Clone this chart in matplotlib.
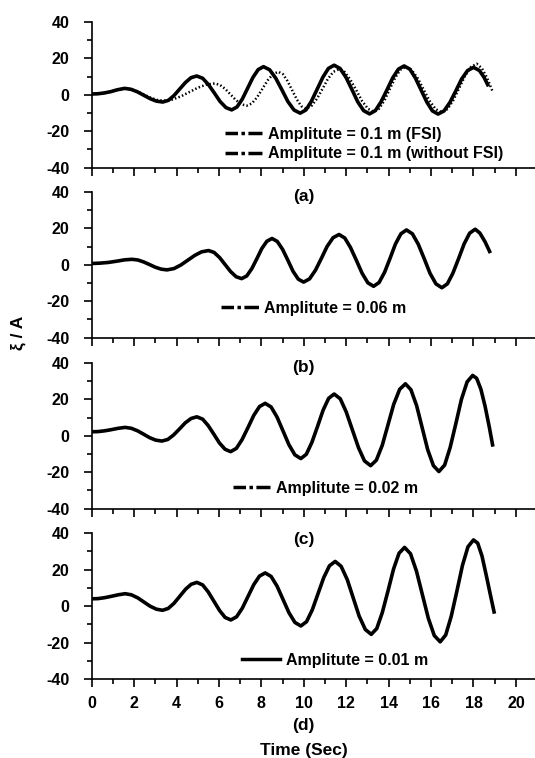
import matplotlib
matplotlib.use("Agg")
import matplotlib.pyplot as plt
from matplotlib.lines import Line2D
from matplotlib.ticker import MultipleLocator

plt.rcParams['font.family'] = ['Liberation Sans', 'DejaVu Sans']
plt.rcParams['font.weight'] = 'bold'
plt.rcParams['axes.unicode_minus'] = False

# (a) amplitude 0.1 m, FSI (solid) and without FSI (dotted)
t_a_fsi = [0, 0.3, 0.6, 0.9, 1.2, 1.55,
           1.85, 2.15, 2.45, 2.75, 3.05, 3.35,
           3.62, 3.88, 4.15, 4.42, 4.68, 4.95,
           5.23, 5.5, 5.78, 6.05, 6.33, 6.6,
           6.85, 7.1, 7.35, 7.6, 7.85, 8.1,
           8.39, 8.68, 8.97, 9.25, 9.54, 9.83,
           10.1, 10.36, 10.63, 10.9, 11.16, 11.43,
           11.71, 11.99, 12.27, 12.54, 12.82, 13.1,
           13.37, 13.64, 13.92, 14.19, 14.46, 14.73,
           15.0, 15.26, 15.53, 15.8, 16.06, 16.33,
           16.61, 16.89, 17.17, 17.44, 17.72, 18.0,
           18.28, 18.5, 18.67]
y_a_fsi = [0.4, 0.55, 1.0, 1.7, 2.7, 3.5,
           3.0, 1.63, -0.25, -2.13, -3.5, -4.0,
           -3.04, -0.43, 3.15, 6.73, 9.34, 10.3,
           9.05, 5.65, 1.0, -3.65, -7.05, -8.3,
           -6.71, -2.38, 3.55, 9.48, 13.81, 15.4,
           13.69, 9.03, 2.65, -3.73, -8.39, -10.1,
           -8.34, -3.53, 3.05, 9.63, 14.44, 16.2,
           14.41, 9.53, 2.85, -3.83, -8.71, -10.5,
           -8.74, -3.93, 2.65, 9.23, 14.04, 15.8,
           14.03, 9.2, 2.6, -4.0, -8.83, -10.6,
           -8.88, -4.2, 2.2, 8.6, 13.28, 15.0,
           13.3, 9.5, 5.5]

t_a_nofsi = [0, 0.3, 0.6, 0.9, 1.2, 1.55,
             1.86, 2.17, 2.48, 2.78, 3.09, 3.4,
             3.8, 4.2, 4.6, 5.0, 5.4, 5.8,
             6.05, 6.3, 6.55, 6.8, 7.05, 7.3,
             7.55, 7.8, 8.05, 8.3, 8.55, 8.8,
             9.02, 9.23, 9.45, 9.67, 9.88, 10.1,
             10.36, 10.62, 10.88, 11.13, 11.39, 11.65,
             11.93, 12.2, 12.48, 12.75, 13.03, 13.3,
             13.55, 13.8, 14.05, 14.3, 14.55, 14.8,
             15.08, 15.37, 15.65, 15.93, 16.22, 16.5,
             16.78, 17.05, 17.33, 17.6, 17.88, 18.15,
             18.4, 18.65, 18.9]
y_a_nofsi = [0.4, 0.55, 1.0, 1.7, 2.7, 3.4,
             2.95, 1.73, 0.05, -1.63, -2.85, -3.3,
             -2.66, -0.93, 1.45, 3.83, 5.56, 6.2,
             5.38, 3.15, 0.1, -2.95, -5.18, -6.0,
             -4.75, -1.35, 3.3, 7.95, 11.35, 12.6,
             11.25, 7.55, 2.5, -2.55, -6.25, -7.6,
             -6.15, -2.2, 3.2, 8.6, 12.55, 14.0,
             12.44, 8.18, 2.35, -3.48, -7.74, -9.3,
             -7.65, -3.15, 3.0, 9.15, 13.65, 15.3,
             13.63, 9.08, 2.85, -3.38, -7.93, -9.6,
             -7.82, -2.95, 3.7, 10.35, 15.22, 17.0,
             14.5, 9.0, 1.8]

# (b) amplitude 0.06 m
t_b = [0, 0.4, 0.8, 1.2, 1.55, 1.9,
       2.18, 2.45, 2.73, 3.0, 3.28, 3.55,
       3.88, 4.2, 4.53, 4.86, 5.18, 5.51,
       5.77, 6.03, 6.29, 6.55, 6.81, 7.07,
       7.31, 7.55, 7.79, 8.02, 8.26, 8.5,
       8.75, 9.0, 9.25, 9.49, 9.74, 9.99,
       10.27, 10.55, 10.83, 11.1, 11.38, 11.66,
       11.93, 12.2, 12.48, 12.75, 13.02, 13.29,
       13.55, 13.81, 14.07, 14.32, 14.58, 14.84,
       15.12, 15.4, 15.68, 15.95, 16.23, 16.51,
       16.77, 17.03, 17.3, 17.56, 17.82, 18.08,
       18.3, 18.55, 18.76]
y_b = [0.7, 0.9, 1.3, 2.0, 2.7, 3.0,
       2.61, 1.55, 0.1, -1.35, -2.41, -2.8,
       -2.09, -0.15, 2.5, 5.15, 7.09, 7.8,
       6.77, 3.95, 0.1, -3.75, -6.57, -7.6,
       -6.13, -2.1, 3.4, 8.9, 12.93, 14.4,
       12.8, 8.43, 2.45, -3.53, -7.9, -9.5,
       -7.75, -2.98, 3.55, 10.08, 14.85, 16.6,
       14.7, 9.5, 2.4, -4.7, -9.9, -11.8,
       -9.73, -4.08, 3.65, 11.38, 17.03, 19.1,
       16.98, 11.18, 3.25, -4.68, -10.48, -12.6,
       -10.45, -4.58, 3.45, 11.48, 17.35, 19.5,
       17.4, 12.5, 7.3]

# (c) amplitude 0.02 m
t_c = [0, 0.3, 0.6, 0.9, 1.25, 1.58,
       1.87, 2.16, 2.45, 2.73, 3.02, 3.31,
       3.59, 3.86, 4.14, 4.41, 4.69, 4.96,
       5.23, 5.49, 5.76, 6.02, 6.29, 6.55,
       6.82, 7.09, 7.37, 7.64, 7.91, 8.18,
       8.46, 8.74, 9.02, 9.3, 9.58, 9.86,
       10.12, 10.38, 10.65, 10.91, 11.17, 11.43,
       11.72, 12.0, 12.29, 12.58, 12.86, 13.15,
       13.42, 13.7, 13.97, 14.24, 14.52, 14.79,
       15.05, 15.32, 15.58, 15.84, 16.11, 16.37,
       16.64, 16.9, 17.17, 17.43, 17.7, 17.96,
       18.15, 18.35, 18.55, 18.75, 18.9]
y_c = [2.2, 2.3, 2.7, 3.3, 4.1, 4.6,
       4.1, 2.73, 0.85, -1.03, -2.4, -2.9,
       -2.01, 0.43, 3.75, 7.08, 9.51, 10.4,
       9.12, 5.63, 0.85, -3.93, -7.42, -8.7,
       -6.92, -2.08, 4.55, 11.18, 16.02, 17.8,
       15.77, 10.23, 2.65, -4.93, -10.47, -12.5,
       -10.13, -3.65, 5.2, 14.05, 20.53, 22.9,
       20.27, 13.08, 3.25, -6.58, -13.77, -16.4,
       -13.39, -5.18, 6.05, 17.28, 25.49, 28.5,
       25.28, 16.48, 4.45, -7.58, -16.38, -19.6,
       -16.07, -6.43, 6.75, 19.93, 29.57, 33.1,
       31.5, 25.5, 16.0, 4.5, -5.0]

# (d) amplitude 0.01 m
t_d = [0, 0.3, 0.6, 0.9, 1.25, 1.58,
       1.87, 2.17, 2.46, 2.75, 3.05, 3.34,
       3.61, 3.88, 4.15, 4.42, 4.69, 4.96,
       5.23, 5.49, 5.76, 6.03, 6.29, 6.56,
       6.83, 7.1, 7.37, 7.64, 7.91, 8.18,
       8.46, 8.74, 9.02, 9.3, 9.58, 9.86,
       10.13, 10.4, 10.67, 10.94, 11.21, 11.48,
       11.76, 12.05, 12.33, 12.61, 12.9, 13.18,
       13.44, 13.7, 13.97, 14.23, 14.49, 14.75,
       15.03, 15.31, 15.59, 15.87, 16.15, 16.43,
       16.69, 16.95, 17.22, 17.48, 17.74, 18.0,
       18.2, 18.4, 18.6, 18.8, 18.97]
y_d = [4.0, 4.1, 4.6, 5.3, 6.2, 6.8,
       6.19, 4.53, 2.25, -0.03, -1.69, -2.3,
       -1.27, 1.53, 5.35, 9.18, 11.97, 13.0,
       11.62, 7.85, 2.7, -2.45, -6.22, -7.6,
       -5.87, -1.15, 5.3, 11.75, 16.47, 18.2,
       16.25, 10.93, 3.65, -3.63, -8.95, -10.9,
       -8.53, -2.05, 6.8, 15.65, 22.13, 24.5,
       21.82, 14.5, 4.5, -5.5, -12.82, -15.5,
       -12.3, -3.58, 8.35, 20.28, 29.0, 32.2,
       28.73, 19.25, 6.3, -6.65, -16.13, -19.6,
       -15.85, -5.63, 8.35, 22.33, 32.55, 36.3,
       34.5, 27.5, 17.0, 6.0, -3.2]

panel_tags = ['(a)', '(b)', '(c)', '(d)']

fig = plt.figure(figsize=(5.35, 7.58), dpi=100)
bottoms = [0.7788, 0.5545, 0.3289, 0.1042]
axes = [fig.add_axes([0.1714, b, 0.8286, 0.1924]) for b in bottoms]

dashdot = (0, (3.6, 1.0, 1.0, 1.0, 4.2, 12))

for i, ax in enumerate(axes):
    ax.set_facecolor('none')
    ax.set_xlim(0, 20.9)
    ax.set_ylim(-40, 40)
    ax.spines['top'].set_visible(False)
    ax.spines['right'].set_visible(False)
    ax.spines['left'].set_linewidth(1.2)
    ax.spines['bottom'].set_linewidth(1.2)
    ax.xaxis.set_major_locator(MultipleLocator(2))
    ax.xaxis.set_minor_locator(MultipleLocator(1))
    ax.yaxis.set_major_locator(MultipleLocator(20))
    ax.yaxis.set_minor_locator(MultipleLocator(10))
    ax.tick_params(which='major', direction='out', length=6, width=1.2)
    ax.tick_params(which='minor', direction='out', length=3.5, width=1.2)
    ax.tick_params(axis='y', which='major', labelsize=11.5, pad=10)
    ax.tick_params(axis='x', which='major', labelsize=11.5, pad=6)
    if i < 3:
        ax.tick_params(axis='x', labelbottom=False)

axes[0].plot(t_a_fsi, y_a_fsi, color='black', lw=2.6, solid_joinstyle='round')
axes[0].plot(t_a_nofsi, y_a_nofsi, color='black', lw=1.8, linestyle=(0, (0.6, 0.9)))
axes[1].plot(t_b, y_b, color='black', lw=2.6, solid_joinstyle='round')
axes[2].plot(t_c, y_c, color='black', lw=2.6, solid_joinstyle='round')
axes[3].plot(t_d, y_d, color='black', lw=2.6, solid_joinstyle='round')

leg_kw = dict(loc='center left', frameon=False, borderpad=0, borderaxespad=0,
              handlelength=2.35, handletextpad=0.35, labelspacing=0.3,
              prop={'weight': 'bold', 'size': 11.5})

h_dd = Line2D([], [], color='black', lw=2.5, linestyle=dashdot)
h_solid = Line2D([], [], color='black', lw=2.5)

axes[0].legend([h_dd, h_dd], ['Amplitute = 0.1 m (FSI)', 'Amplitute = 0.1 m (without FSI)'],
               bbox_to_anchor=(0.30, 0.1625), **leg_kw)
axes[1].legend([h_dd], ['Amplitute = 0.06 m'], bbox_to_anchor=(0.292, 0.201), **leg_kw)
axes[2].legend([h_dd], ['Amplitute = 0.02 m'], bbox_to_anchor=(0.318, 0.14), **leg_kw)
axes[3].legend([h_solid], ['Amplitute = 0.01 m'], bbox_to_anchor=(0.34, 0.129), **leg_kw)

tag_y = [-0.20, -0.206, -0.214, -0.32]
for ax, tag, ty in zip(axes, panel_tags, tag_y):
    ax.text(10, ty, tag, transform=ax.get_xaxis_transform(), ha='center', va='center',
            fontsize=12.5, fontweight='bold', zorder=10)

axes[3].text(10, -0.49, 'Time (Sec)', transform=axes[3].get_xaxis_transform(),
             ha='center', va='center', fontsize=12.5, fontweight='bold')

fig.text(0.034, 1 - 333 / 758, 'ξ / A', rotation=90, ha='center', va='center',
         fontsize=12.5, fontweight='bold')

fig.savefig('out.png', dpi=100)
